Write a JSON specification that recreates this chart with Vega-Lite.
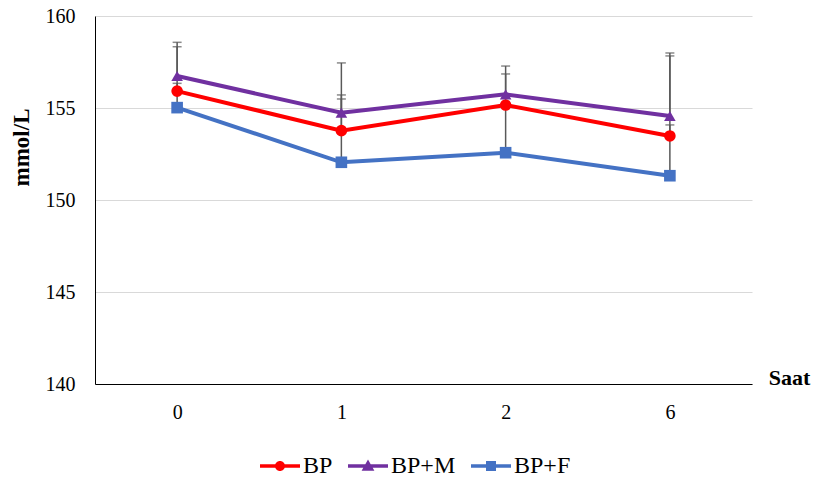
{
  "$schema": "https://vega.github.io/schema/vega-lite/v6.json",
  "autosize": "none",
  "width": 657,
  "height": 368,
  "padding": {"left": 95, "top": 16, "right": 64, "bottom": 98},
  "background": "white",
  "config": {
    "view": {"stroke": null},
    "font": "Liberation Serif"
  },
  "data": {
    "values": [
      {"t": "0", "s": "BP", "v": 155.92, "hi": 158.33},
      {"t": "1", "s": "BP", "v": 153.77, "hi": 155.71},
      {"t": "2", "s": "BP", "v": 155.16, "hi": 156.85},
      {"t": "6", "s": "BP", "v": 153.48, "hi": 157.83},
      {"t": "0", "s": "BP+M", "v": 156.74, "hi": 158.57},
      {"t": "1", "s": "BP+M", "v": 154.74, "hi": 155.49},
      {"t": "2", "s": "BP+M", "v": 155.74, "hi": 157.28},
      {"t": "6", "s": "BP+M", "v": 154.57, "hi": 157.99},
      {"t": "0", "s": "BP+F", "v": 155.02, "hi": 156.34},
      {"t": "1", "s": "BP+F", "v": 152.05, "hi": 157.45},
      {"t": "2", "s": "BP+F", "v": 152.57, "hi": 155.16},
      {"t": "6", "s": "BP+F", "v": 151.32, "hi": 154.08}
    ]
  },
  "encoding": {
    "x": {
      "field": "t",
      "type": "ordinal",
      "sort": ["0", "1", "2", "6"],
      "scale": {"type": "point", "padding": 0.5},
      "axis": {
        "title": "Saat",
        "titleFont": "Liberation Serif",
        "titleFontWeight": "bold",
        "titleFontSize": 22,
        "titleColor": "black",
        "titleX": 694,
        "titleY": 0,
        "titleAlign": "center",
        "titleBaseline": "alphabetic",
        "labelAngle": 0,
        "labelFont": "Liberation Serif",
        "labelFontSize": 20,
        "labelColor": "black",
        "labelPadding": 18,
        "ticks": false,
        "domainColor": "black",
        "domainWidth": 1,
        "grid": false
      }
    },
    "y": {
      "field": "v",
      "type": "quantitative",
      "scale": {"domain": [140, 160], "nice": false, "zero": false},
      "axis": {
        "title": "mmol/L",
        "titleFont": "Liberation Serif",
        "titleFontWeight": "bold",
        "titleFontSize": 23,
        "titleColor": "black",
        "titleAngle": -90,
        "titleX": -74,
        "titleY": 131,
        "titleAlign": "center",
        "titleBaseline": "middle",
        "values": [140, 145, 150, 155, 160],
        "labelFont": "Liberation Serif",
        "labelFontSize": 20,
        "labelColor": "black",
        "labelPadding": 20,
        "ticks": false,
        "domainColor": "black",
        "domainWidth": 1,
        "grid": true,
        "gridColor": "#D9D9D9",
        "gridWidth": 1
      }
    }
  },
  "resolve": {
    "scale": {"shape": "independent"},
    "legend": {"color": "independent", "shape": "independent"}
  },
  "layer": [
    {
      "mark": {"type": "rule", "color": "#595959", "strokeWidth": 1.5},
      "encoding": {"y2": {"field": "hi"}}
    },
    {
      "mark": {"type": "tick", "color": "#595959", "thickness": 1.5, "size": 9},
      "encoding": {"y": {"field": "hi", "type": "quantitative"}}
    },
    {
      "mark": {"type": "line", "strokeWidth": 4},
      "encoding": {
        "color": {
          "field": "s",
          "type": "nominal",
          "scale": {"domain": ["BP", "BP+M", "BP+F"], "range": ["#FF0000", "#7030A0", "#4472C4"]},
          "legend": null
        }
      }
    },
    {
      "mark": {"type": "point", "filled": true, "opacity": 1, "size": 135},
      "encoding": {
        "color": {
          "field": "s",
          "type": "nominal",
          "scale": {"domain": ["BP", "BP+M", "BP+F"], "range": ["#FF0000", "#7030A0", "#4472C4"]},
          "legend": null
        },
        "shape": {
          "field": "s",
          "type": "nominal",
          "scale": {"domain": ["BP", "BP+M", "BP+F"], "range": ["circle", "triangle-up", "square"]},
          "legend": null
        }
      }
    },
    {
      "transform": [{"filter": "false"}],
      "mark": {"type": "point", "filled": true, "opacity": 1, "strokeWidth": 0},
      "encoding": {
        "color": {
          "field": "s",
          "type": "nominal",
          "scale": {"domain": ["BP", "BP+M", "BP+F"], "range": ["#FF0000", "#7030A0", "#4472C4"]},
          "legend": {
            "title": null,
            "orient": "none",
            "direction": "horizontal",
            "legendX": 165,
            "legendY": 430,
            "padding": 0,
            "symbolSize": 1600,
            "symbolStrokeWidth": 0,
            "labelFont": "Liberation Serif",
            "labelFontSize": 24,
            "labelColor": "black",
            "labelOffset": 3,
            "columnPadding": 15
          }
        },
        "shape": {
          "field": "s",
          "type": "nominal",
          "scale": {
            "domain": ["BP", "BP+M", "BP+F"],
            "range": [
              "M-1,-0.09H1V0.09H-1ZM-0.25,0A0.25,0.25 0 1,1 0.25,0A0.25,0.25 0 1,1 -0.25,0Z",
              "M-1,-0.09H1V0.09H-1ZM0,-0.32L0.32,0.24H-0.32Z",
              "M-1,-0.09H1V0.09H-1ZM-0.25,-0.25H0.25V0.25H-0.25Z"
            ]
          },
          "legend": {
            "title": null,
            "orient": "none",
            "direction": "horizontal",
            "legendX": 165,
            "legendY": 430,
            "padding": 0,
            "symbolSize": 1600,
            "symbolStrokeWidth": 0,
            "labelFont": "Liberation Serif",
            "labelFontSize": 24,
            "labelColor": "black",
            "labelOffset": 3,
            "columnPadding": 15
          }
        }
      }
    }
  ]
}
